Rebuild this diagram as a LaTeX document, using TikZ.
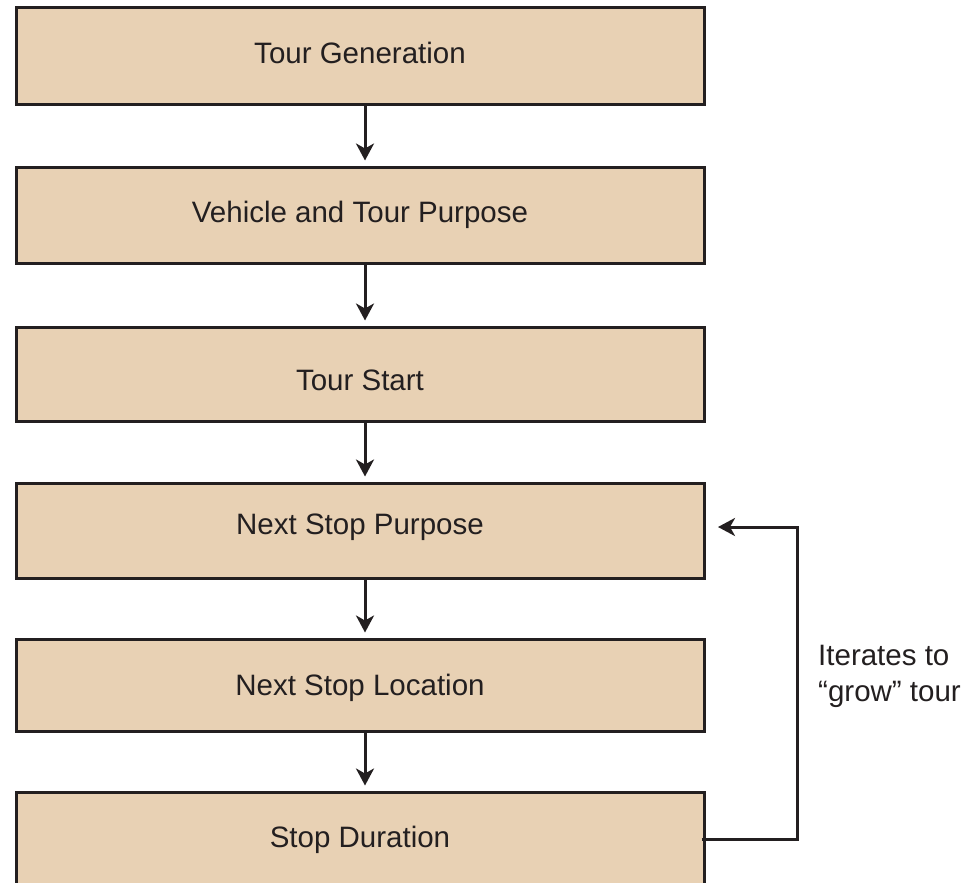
\documentclass[tikz,border=0pt]{standalone}
\usepackage{fontspec}
\setmainfont{Liberation Sans}
\usetikzlibrary{arrows.meta}
\definecolor{boxfill}{HTML}{E8D1B4}
\definecolor{ink}{HTML}{231F20}
\newcommand{\shifttxt}[2]{\raisebox{#1}[\height][\depth]{#2}}
\begin{document}
\begin{tikzpicture}[x=1pt,y=-1pt,
  stepbox/.style={draw=ink,fill=boxfill,line width=3pt,minimum width=688pt,minimum height=96pt,inner sep=0pt,font=\fontsize{29.5}{34}\selectfont,text=ink},
  conn/.style={draw=ink,line width=3pt,-{Stealth[length=17pt,width=18pt,inset=5pt]}}]
\useasboundingbox (0,0) rectangle (966,883);
\clip (0,0) rectangle (966,883);
\node[stepbox] (b1) at (360,56) {\shifttxt{3pt}{Tour Generation}};
\node[stepbox] (b2) at (360,215) {Vehicle and Tour Purpose};
\node[stepbox,minimum height=94pt] (b3) at (360,374) {\shifttxt{-6pt}{Tour Start}};
\node[stepbox,minimum height=95pt] (b4) at (360,530.5) {\shifttxt{3pt}{Next Stop Purpose}};
\node[stepbox,minimum height=92pt] (b5) at (360,685) {\shifttxt{-3pt}{Next Stop Location}};
\node[stepbox] (b6) at (360,840) {Stop Duration};
\node[anchor=north west,inner sep=0pt,align=left,font=\fontsize{29.5}{36}\selectfont,text=ink] (lbl) at (818,645) {Iterates to\\``grow'' tour};
\coordinate (tip) at (718,527);
\coordinate (cr) at (797,839);
\coordinate (ct) at (797,527);
\foreach \a/\b in {b1/b2,b2/b3,b3/b4,b4/b5,b5/b6}{
  \draw[conn,shorten >=5pt] (\a.south -| 365,0) -- (\b.north -| 365,0);
}
\draw[conn] ([xshift=-4pt]b6.east |- cr) -- (cr) -- (ct) -- (tip);
\end{tikzpicture}
\end{document}
